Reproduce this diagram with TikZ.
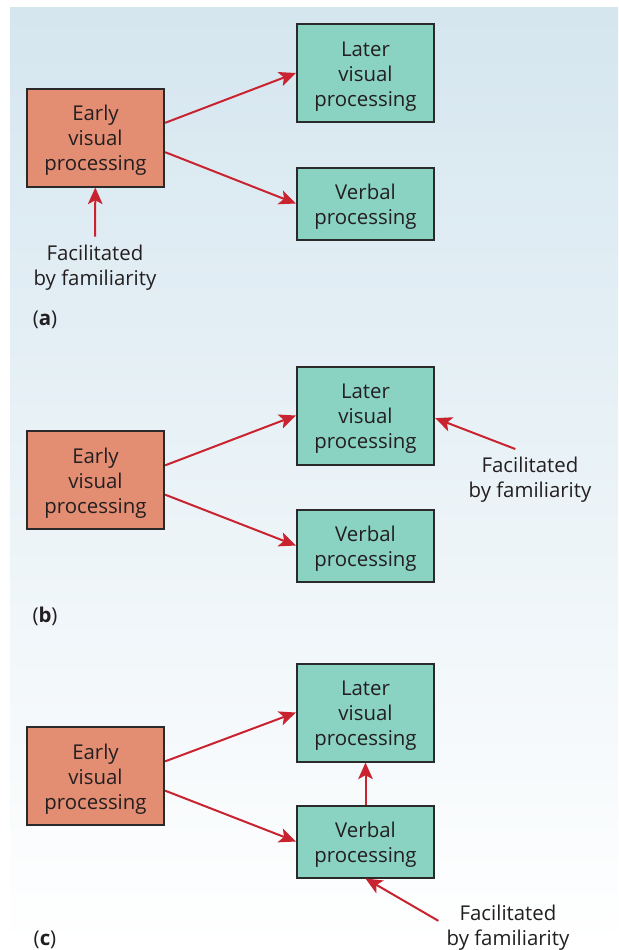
\documentclass[tikz,border=0pt]{standalone}
\usepackage{fontspec}
\setmainfont{Open Sans}
\usetikzlibrary{arrows.meta}

\definecolor{earlyfill}{HTML}{E38D73}
\definecolor{laterfill}{HTML}{8AD2C2}
\definecolor{boxline}{HTML}{2A2A2A}
\definecolor{linkred}{HTML}{C8232F}
\definecolor{inktext}{HTML}{231F20}
\definecolor{bgtop}{HTML}{D5E6EF}

\begin{document}
\begin{tikzpicture}[x=0.75pt,y=-0.75pt,>={Stealth[length=12.5pt,width=11pt,inset=3pt]},
  stage/.style={draw=boxline,line width=1.5pt,align=center,minimum width=103pt,
    text=inktext,font=\fontsize{15.3}{18.75}\selectfont},
  early/.style={stage,fill=earlyfill,minimum height=73.5pt,text height=53.5pt},
  later/.style={stage,fill=laterfill,minimum height=73.5pt,text height=53.5pt},
  verbal/.style={stage,fill=laterfill,minimum height=54pt,text height=34.5pt},
  hint/.style={align=center,text=inktext,inner sep=6pt,font=\fontsize{15.3}{18.75}\selectfont},
  panel/.style={text=inktext,font=\fontsize{15.3}{18.75}\selectfont},
  link/.style={->,draw=linkred,line width=1.5pt}]

  \useasboundingbox (0,0) rectangle (618,950);
  \shade[top color=bgtop,bottom color=white] (10,7) rectangle (618,950);

  % (a) familiarity helps early processing
  \node[early]  (aearly)  at (95.5,137.5)  {Early\\visual\\processing};
  \node[later]  (alater)  at (365.5,73)    {Later\\visual\\processing};
  \node[verbal] (averbal) at (365.5,203.5) {Verbal\\processing};
  \node[hint]   (afam)    at (95,267.5)    {Facilitated\\by familiarity};
  \node[panel]  (alabel)  at (45,320)      {(\textbf{a})};

  \draw[link] ([yshift=11pt]aearly.east)  -- (alater.west);
  \draw[link] ([yshift=-11pt]aearly.east) -- (averbal.west);
  \draw[link] (afam) -- (aearly);

  % (b) familiarity helps later visual processing
  \node[early]  (bearly)  at (95.5,480)    {Early\\visual\\processing};
  \node[later]  (blater)  at (365.5,415.5) {Later\\visual\\processing};
  \node[verbal] (bverbal) at (365.5,545.5) {Verbal\\processing};
  \node[hint]   (bfam)    at (530,480)     {Facilitated\\by familiarity};
  \node[panel]  (blabel)  at (45,616)      {(\textbf{b})};

  \draw[link] ([xshift=-11pt]bfam.north) -- ([yshift=-2pt]blater.east);
  \draw[link] ([yshift=11pt]bearly.east)  -- (blater.west);
  \draw[link] ([yshift=-11pt]bearly.east) -- (bverbal.west);

  % (c) familiarity helps verbal processing
  \node[early]  (cearly)  at (95.5,776)    {Early\\visual\\processing};
  \node[later]  (clater)  at (365.5,712.5) {Later\\visual\\processing};
  \node[verbal] (cverbal) at (365.5,841.5) {Verbal\\processing};
  \node[hint]   (cfam)    at (508,927.5)   {Facilitated\\by familiarity};
  \node[panel]  (clabel)  at (45,940)      {(\textbf{c})};

  \draw[link] ([yshift=11pt]cearly.east)  -- (clater.west);
  \draw[link] ([yshift=-11pt]cearly.east) -- (cverbal.west);
  \draw[link] (cverbal) -- (clater);
  \draw[link] ([yshift=5pt]cfam.west) -- (cverbal.south);

\end{tikzpicture}
\end{document}
